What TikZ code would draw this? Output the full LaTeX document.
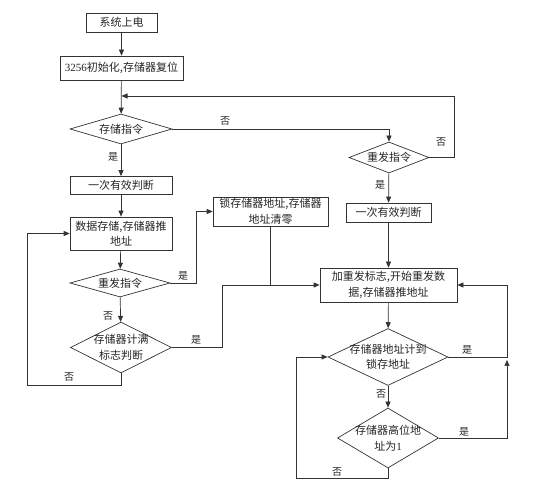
\documentclass[tikz,border=0pt]{standalone}
\usepackage{fontspec}
\setmainfont{Liberation Serif}
\newfontfamily\cjk{Noto Sans CJK SC}
\usetikzlibrary{shapes.geometric,arrows.meta}
\begin{document}
\begin{tikzpicture}[x=1pt,y=-1pt,
  every node/.style={font=\cjk\fontsize{11}{15.5}\selectfont, text=black!85},
  box/.style={draw=black!80, line width=0.7pt, rectangle, inner sep=0pt, align=center},
  dia/.style={draw=black!80, line width=0.7pt, diamond, aspect=2, inner sep=-8pt, align=center},
  lab/.style={font=\cjk\fontsize{10}{12}\selectfont, inner sep=0pt},
  conn/.style={draw=black!80, line width=0.7pt},
  arr/.style={conn, -{Triangle[length=6pt,width=5pt]}}
]
\useasboundingbox (0,0) rectangle (555,494);
\fill[white] (0,0) rectangle (555,494);

% boxes
\node[box, minimum width=71pt, minimum height=19pt] (b1) at (121.5,22.5) {系统上电};
\node[box, minimum width=123pt, minimum height=24pt] (b2) at (121.5,68) {{\normalfont 3256}初始化,存储器复位};
\node[box, minimum width=102pt, minimum height=18pt] (b3) at (121,185.5) {一次有效判断};
\node[box, minimum width=102pt, minimum height=33pt] (b4) at (121,233.5) {数据存储,存储器推\\地址};
\node[box, minimum width=115pt, minimum height=29pt] (b5) at (270.5,211.5) {锁存储器地址,存储器\\地址清零};
\node[box, minimum width=85pt, minimum height=19pt] (b6) at (388.5,212.5) {一次有效判断};
\node[box, minimum width=137pt, minimum height=34pt] (b7) at (388.5,285) {加重发标志,开始重发数\\据,存储器推地址};

% decisions
\node[dia, minimum width=102pt, minimum height=30pt] (d1) at (121,129) {存储指令};
\node[dia, minimum width=80pt, minimum height=31pt] (d2) at (389,157.5) {重发指令};
\node[dia, minimum width=100pt, minimum height=28pt] (d3) at (120,283) {重发指令};
\node[dia, minimum width=101pt, minimum height=51pt] (d4) at (121,347.5) {存储器计满\\标志判断};
\node[dia, minimum width=120pt, minimum height=57pt] (d5) at (388,357) {存储器地址计到\\锁存地址};
\node[dia, minimum width=101pt, minimum height=60pt] (d6) at (388,438) {存储器高位地\\址为{\normalfont 1}};

% junction points
\coordinate (j1) at (121.5,96);
\coordinate (j2) at (507,360);

% connectors
\draw[arr] (b1) -- (b2);
\draw[arr] (b2) -- (d1);
\draw[arr] (d1.east) -- (d1.east -| d2.north) -- (d2.north);
\draw[arr] (d2.east) -- (454,157.5) -- (454,96) -- (j1);
\draw[arr] (d2) -- (b6);
\draw[arr] (b6) -- (b7);
\draw[arr] (d1) -- (b3);
\draw[arr] (b3) -- (b4);
\draw[arr] (b4) -- (d3);
\draw[arr] (d3.east) -- (196,283) -- (196,211.5) -- (b5.west);
\draw[arr] (d3) -- (d4);
\draw[arr] (d4.south) -- (121,385) -- (27,385) -- (27,233.5) -- (b4.west);
\draw[arr] (d4.east) -- (222,347.5) -- (222,285) -- (b7.west);
\draw[conn] (b5.south) -- (b5.south |- b7.west);
\draw[arr] (b7) -- (d5);
\draw[arr] (d5.east) -- (507,357) -- (507,285) -- (b7.east);
\draw[arr] (d6.east) -- (507,438) -- (j2);
\draw[arr] (d5) -- (d6);
\draw[arr] (d6.south) -- (388,478) -- (296,478) -- (296,357) -- (d5.west);

% labels
\node[lab] (l1) at (225,121) {否};
\node[lab] (l2) at (441,142) {否};
\node[lab] (l3) at (380,185) {是};
\node[lab] (l4) at (113,157) {是};
\node[lab] (l5) at (183,276) {是};
\node[lab] (l6) at (108,316) {否};
\node[lab] (l7) at (69,377) {否};
\node[lab] (l8) at (196,340) {是};
\node[lab] (l9) at (467,350) {是};
\node[lab] (l10) at (464,432) {是};
\node[lab] (l11) at (381,394) {否};
\node[lab] (l12) at (337,472) {否};
\end{tikzpicture}
\end{document}
